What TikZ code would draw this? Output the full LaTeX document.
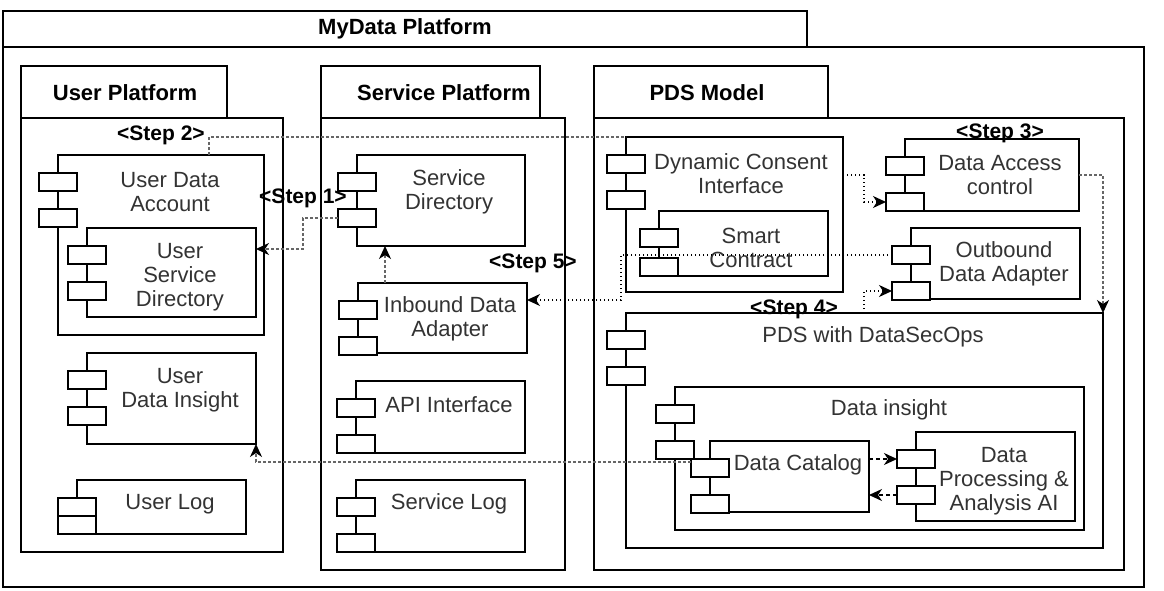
\documentclass[tikz,border=0pt]{standalone}
\usepackage{fontspec}
\setmainfont{Liberation Sans}
\usetikzlibrary{positioning,arrows.meta,calc}
\tikzset{
	frame/.style={draw,line width=1.3pt},
	compbox/.style={draw,fill=white,line width=1.3pt,inner sep=0pt,outer sep=0pt},
	port/.style={draw,fill=white,line width=1.3pt,inner sep=0pt,outer sep=0pt,minimum width=38pt,minimum height=18pt},
	txt/.style={font=\fontsize{22}{24}\selectfont,align=center,text=black!80,inner sep=0pt},
	hdr/.style={font=\bfseries\fontsize{22}{24}\selectfont,inner sep=0pt},
	steplbl/.style={font=\bfseries\fontsize{21}{24}\selectfont,inner sep=0pt},
	gdash/.style={draw=black!60,line width=1.1pt,dash pattern=on 3pt off 2pt},
	bdot/.style={draw=black,line width=1.4pt,dash pattern=on 1.4pt off 2.6pt},
	bdash/.style={draw=black,line width=1.2pt,dash pattern=on 4pt off 3pt},
	arr/.style={-{Stealth[length=13pt,width=12pt,inset=4pt,color=black]}}
}
% component: [gap of ports]{name}{left}{top}{right}{bottom}
\newcommand{\comp}[6][36]{%
	\pgfmathsetmacro\compw{#5-#3}\pgfmathsetmacro\comph{#6-#4}%
	\node[compbox,minimum width=\compw pt,minimum height=\comph pt] (#2) at ({(#3+#5)/2},{(#4+#6)/2}) {};
	\node[port] (#2-a) at (#3,{#4+27}) {};
	\node[port] (#2-b) at (#3,{#4+27+#1}) {};
}

\begin{document}
\begin{tikzpicture}[x=1pt,y=-1pt]
	\useasboundingbox (0,0) rectangle (1164,591);
	
	%MyData Platform
	\draw[frame] (3,11) rectangle (807,47);
	\draw[frame] (3,47) rectangle (1144,587);
	\node[hdr] (mydata) at (405,29) {MyData Platform};
	
	%User Platform
	\draw[frame] (21,66) rectangle (227,118);
	\draw[frame] (21,118) rectangle (283,552);
	\node[hdr] (userplat) at (125,93) {User Platform};
	
	%Service Platform
	\draw[frame] (321,66) rectangle (540,118);
	\draw[frame] (321,118) rectangle (565,570);
	\node[hdr] (servplat) at (444,93) {Service Platform};
	
	%PDS Model
	\draw[frame] (594,66) rectangle (828,118);
	\draw[frame] (594,118) rectangle (1124,570);
	\node[hdr] (pdsmodel) at (707,93) {PDS Model};
	
	%Composants
	\comp{UDA}{58}{155}{264}{335}
	\comp{USD}{87}{228}{256}{317}
	\comp{UDI}{87}{353}{256}{444}
	\comp[18]{ULog}{77}{480}{246}{534}
	
	\comp{SD}{357}{155}{525}{246}
	\comp{IDA}{358}{283}{527}{353}
	\comp{API}{356}{381}{525}{453}
	\comp{SLog}{356}{480}{525}{552}
	
	\comp{DC}{626}{137}{843}{292}
	\comp[29]{SC}{659}{211}{828}{276}
	\comp{DA}{905}{139}{1079}{211}
	\comp{OA}{911}{228}{1080}{299}
	\comp{DSO}{626}{313}{1103}{548}
	\comp{DI}{675}{387}{1084}{530}
	\comp{DCat}{710}{441}{869}{512}
	\comp{DP}{916}{432}{1075}{521}
	
	%Textes
	\node[txt] (UDA-t) at (170,192) {User Data\\Account};
	\node[txt] (USD-t) at (180,277) {User\\Service\\Directory};
	\node[txt] (UDI-t) at (180,390) {User\\Data Insight};
	\node[txt] (ULog-t) at (170,504) {User Log};
	\node[txt] (SD-t) at (449,192) {Service\\Directory};
	\node[txt] (IDA-t) at (450,319) {Inbound Data\\Adapter};
	\node[txt] (API-t) at (449,405) {API Interface};
	\node[txt] (SLog-t) at (449,504) {Service Log};
	\node[txt] (DC-t) at (741,174) {Dynamic Consent\\Interface};
	\node[txt] (SC-t) at (751,248) {Smart\\Contract};
	\node[txt] (DA-t) at (1000,175) {Data Access\\control};
	\node[txt] (OA-t) at (1004,264) {Outbound\\Data Adapter};
	\node[txt] (DSO-t) at (873,337) {PDS with DataSecOps};
	\node[txt] (DI-t) at (889,410) {Data insight};
	\node[txt] (DCat-t) at (798,465) {Data Catalog};
	\node[txt] (DP-t) at (1004,481) {Data\\Processing \&\\Analysis AI};
	
	%Liens
	\coordinate (s1) at (303,249);
	\coordinate (s2) at (209,137);
	\coordinate (s3) at (864,175);
	\coordinate (s5) at (621,300);
	\coordinate (s6) at (385,265);
	\coordinate (s7) at (256,462);
	
	\draw[gdash,arr] (SD-b.west) -| (s1) -- (s1 -| USD.east);
	\draw[gdash] (s2 |- UDA.north) -- (s2) -- (DC.north west);
	\draw[bdot,arr] (s3 -| DC.east) -- (s3) |- (DA-b.west);
	\draw[gdash,arr] (DA.east) -| (DSO.north east);
	\draw[bdot,arr] (s3 |- DSO.north) |- (OA-b.west);
	\draw[bdot,arr] (OA-a.west) -| (s5) -- (s5 -| IDA.east);
	\draw[gdash,arr] (s6 |- IDA.north) -- (s6 |- SD.south);
	\draw[gdash,arr] (DCat-a.west |- s7) -- (s7) -- (UDI.south east);
	\draw[bdash,arr] (DCat.east |- DP-a.west) -- (DP-a.west);
	\draw[bdash,arr] (DP-b.west) -- (DCat.east |- DP-b.west);
	
	%Etapes
	\node[steplbl] (step1) at (303,198) {<Step 1>};
	\node[steplbl] (step2) at (161,135) {<Step 2>};
	\node[steplbl] (step3) at (1000,133) {<Step 3>};
	\node[steplbl] (step4) at (794,309) {<Step 4>};
	\node[steplbl] (step5) at (533,263) {<Step 5>};
	
\end{tikzpicture}
\end{document}
